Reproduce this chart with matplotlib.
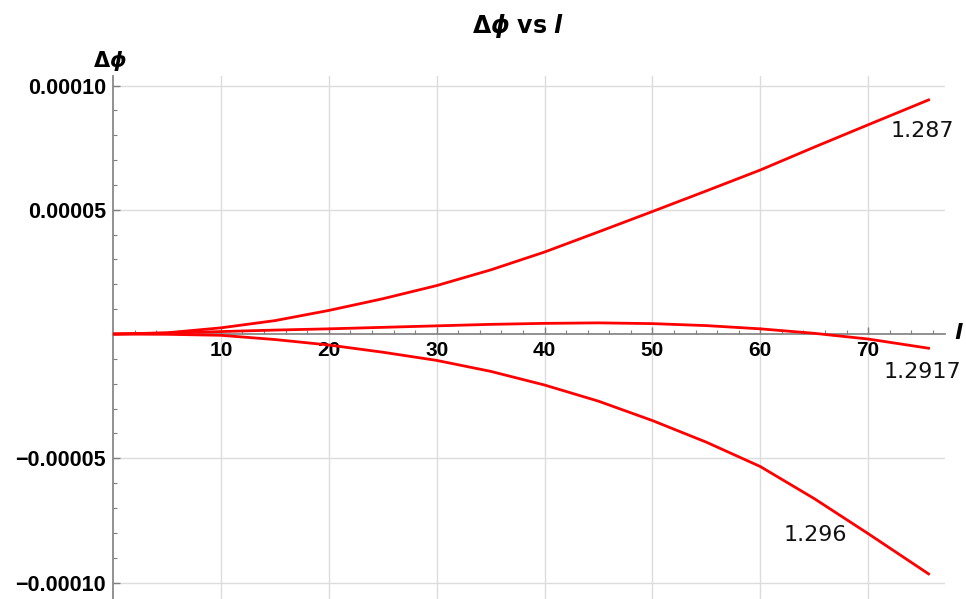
import matplotlib
matplotlib.use('Agg')
import matplotlib.pyplot as plt
import numpy as np

# values (dphi in units of 1e-6)
l_vals = [0, 5, 10, 15, 20, 25, 30, 35, 40, 45, 50, 55, 60, 65, 70, 75.6]
dphi_1287 = [0, 0.5, 2.5, 5.4, 9.5, 14.2, 19.5, 25.8, 33.0, 41.1, 49.3, 57.6, 66.0, 75.2, 84.2, 94.2]
dphi_12917 = [0, 0.4, 1.0, 1.6, 2.1, 2.7, 3.3, 3.9, 4.3, 4.5, 4.2, 3.4, 2.1, 0.3, -2.0, -5.7]
dphi_1296 = [0, -0.1, -0.5, -2.2, -4.4, -7.3, -10.6, -15.0, -20.5, -27.0, -34.8, -43.5, -53.3, -66.2, -80.3, -96.5]
curve_labels = ["1.287", "1.2917", "1.296"]
label_pos = [(75.0, 81.8), (75.0, -15.2), (65.1, -80.7)]

x_ticks = [10, 20, 30, 40, 50, 60, 70]
y_ticks = [-0.0001, -0.00005, 0.00005, 0.0001]
y_ticklabels = ["\u22120.00010", "\u22120.00005", "0.00005", "0.00010"]

fig = plt.figure(figsize=(9.66, 5.99), dpi=100)
ax = fig.add_axes([0.117, 0.0, 0.861, 0.873])

for ys in (dphi_1287, dphi_12917, dphi_1296):
    ax.plot(l_vals, np.array(ys) * 1e-6, color='#ff0000', lw=2.0, zorder=3)

for txt, (lx, ly) in zip(curve_labels, label_pos):
    ax.text(lx, ly * 1e-6, txt, fontsize=16, ha='center', va='center',
            family='DejaVu Sans', color='#111111')

ax.set_xlim(0, 77.1)
ax.set_ylim(-0.0001066, 0.0001038)

ax.spines['top'].set_visible(False)
ax.spines['right'].set_visible(False)
ax.spines['bottom'].set_position(('data', 0))
ax.spines['left'].set_position(('data', 0))
for s in ('bottom', 'left'):
    ax.spines[s].set_color('#7f7f7f')
    ax.spines[s].set_linewidth(1.2)

ax.set_xticks(x_ticks)
ax.set_xticklabels([str(t) for t in x_ticks], fontsize=15, fontweight='bold',
                   family='Liberation Sans')
ax.set_xticks(np.arange(2, 77, 2), minor=True)
ax.set_yticks(y_ticks)
ax.set_yticklabels(y_ticklabels, fontsize=15.5, fontweight='bold',
                   family='Liberation Sans')
ax.set_yticks(np.arange(-0.0001, 0.000101, 0.00001), minor=True)

ax.tick_params(axis='both', which='major', direction='in', length=5,
               color='#7f7f7f', width=1)
ax.tick_params(axis='both', which='minor', direction='in', length=3,
               color='#7f7f7f', width=0.8)
ax.tick_params(axis='x', which='major', pad=5)
ax.tick_params(axis='y', which='major', pad=5)

ax.grid(True, which='major', color='#dcdcdc', lw=1.0, zorder=0)

fig.text(518 / 966, 1 - 26 / 599,
         r"$\mathbf{\Delta}\boldsymbol{\phi}$ $\mathbf{vs}$ $\boldsymbol{l}$",
         fontsize=17, ha='center', va='center')
fig.text(110 / 966, 1 - 61 / 599, r"$\mathbf{\Delta}\boldsymbol{\phi}$",
         fontsize=15, ha='center', va='center')
fig.text(959 / 966, 1 - 333 / 599, r"$\boldsymbol{l}$", fontsize=16,
         ha='center', va='center')

fig.savefig('out.png', dpi=100)
